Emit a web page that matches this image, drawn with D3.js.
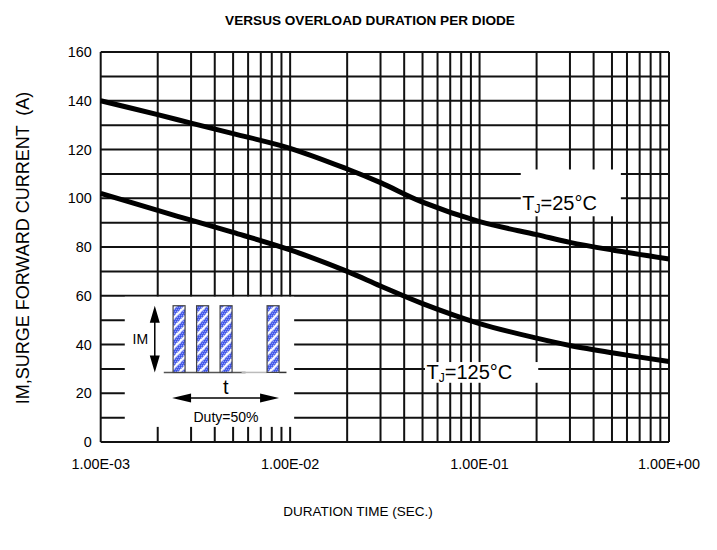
<!DOCTYPE html>
<html>
<head>
<meta charset="utf-8">
<script src="https://cdn.jsdelivr.net/npm/d3@7"></script>
<style>
  body { margin: 0; background: #fff; }
  svg { display: block; font-family: "Liberation Sans", Arial, sans-serif; }
</style>
</head>
<body>
<div id="chart"></div>
<script>
// duration (s) and surge current (A)
const durations = [0.001, 0.002, 0.003, 0.005, 0.01, 0.02, 0.03, 0.05, 0.1, 0.2, 0.3, 0.5, 1];
const surge25 = [140, 134.3, 130.8, 126.5, 120.5, 112, 106.4, 98.4, 90.4, 85.1, 81.9, 78.8, 75.1];
const surge125 = [102, 95, 91, 86, 78.8, 70, 64, 56.8, 48.6, 42.6, 39.6, 36.6, 33];
const yTicks = [0, 20, 40, 60, 80, 100, 120, 140, 160];
const xTicks = [1e-3, 1e-2, 1e-1, 1];
const xTickLabels = ["1.00E-03", "1.00E-02", "1.00E-01", "1.00E+00"];

const width = 717, height = 550;
const margin = {top: 52, right: 48, bottom: 108, left: 100.7};

const svg = d3.select("#chart").append("svg")
  .attr("width", width)
  .attr("height", height);

const x = d3.scaleLog().domain([1e-3, 1]).range([margin.left, width - margin.right]);
const y = d3.scaleLinear().domain([0, 160]).range([height - margin.bottom, margin.top]);

// hatched fill for the pulse bars: blue dot screen with white diagonal bands
const defs = svg.append("defs");
const pat = defs.append("pattern")
  .attr("id", "hatch")
  .attr("patternUnits", "userSpaceOnUse")
  .attr("width", 10).attr("height", 10);
pat.append("rect").attr("width", 10).attr("height", 10).attr("fill", "#2f46e6");
for (let i = 0; i < 10; i += 2) {
  for (let j = (i / 2) % 2 ? 1 : 0; j < 10; j += 2) {
    pat.append("rect").attr("x", j).attr("y", i).attr("width", 1).attr("height", 1).attr("fill", "#d8dcff");
  }
}
pat.append("path")
  .attr("d", "M-2.5,2.5 L2.5,-2.5 M0,10 L10,0 M7.5,12.5 L12.5,7.5")
  .attr("stroke", "#fff").attr("stroke-width", 2.4);

// grid
const minor = [];
for (let d = -3; d < 0; d++) {
  for (let k = 1; k <= 9; k++) minor.push(k * Math.pow(10, d));
}
minor.push(1);

const grid = svg.append("g").attr("stroke", "#111").attr("stroke-width", 2);
grid.selectAll("line.v")
  .data(minor)
  .join("line")
  .attr("class", "v")
  .attr("x1", d => x(d)).attr("x2", d => x(d))
  .attr("y1", y(0)).attr("y2", y(160));
grid.selectAll("line.h")
  .data(d3.range(0, 161, 10))
  .join("line")
  .attr("class", "h")
  .attr("x1", x(1e-3)).attr("x2", x(1))
  .attr("y1", d => y(d)).attr("y2", d => y(d));

// white boxes that cut the grid (inset and labels)
const inset = {t0: 1.34e-3, t1: 1.05e-2, v0: 6.2, v1: 59.6};
svg.append("rect")
  .attr("x", x(inset.t0)).attr("y", y(inset.v1))
  .attr("width", x(inset.t1) - x(inset.t0))
  .attr("height", y(inset.v0) - y(inset.v1))
  .attr("fill", "#fff");

const labels = [
  {text: "25°C", t0: 0.165, t1: 0.557, v0: 92.6, v1: 111.8, tx: 0.168, ty: 95.3},
  {text: "125°C", t0: 0.0515, t1: 0.204, v0: 24.3, v1: 32.8, tx: 0.0525, ty: 25.9}
];
svg.selectAll("rect.lab")
  .data(labels)
  .join("rect")
  .attr("class", "lab")
  .attr("x", d => x(d.t0)).attr("y", d => y(d.v1))
  .attr("width", d => x(d.t1) - x(d.t0))
  .attr("height", d => y(d.v0) - y(d.v1))
  .attr("fill", "#fff");

// curves
const line = d3.line()
  .x(d => x(d[0]))
  .y(d => y(d[1]))
  .curve(d3.curveCatmullRom.alpha(0.5));

[surge25, surge125].forEach(s => {
  svg.append("path")
    .datum(durations.map((t, i) => [t, s[i]]))
    .attr("fill", "none")
    .attr("stroke", "#000")
    .attr("stroke-width", 5)
    .attr("d", line);
});

// curve labels
const lt = svg.selectAll("text.lab")
  .data(labels)
  .join("text")
  .attr("class", "lab")
  .attr("x", d => x(d.tx))
  .attr("y", d => y(d.ty))
  .attr("font-size", 20)
  .attr("fill", "#000");
lt.append("tspan").text("T");
lt.append("tspan").attr("font-size", 12).attr("dy", 3).text("J");
lt.append("tspan").attr("dy", -3).text(d => "=" + d.text);

// axis tick labels
svg.append("g")
  .selectAll("text")
  .data(yTicks)
  .join("text")
  .attr("x", margin.left - 9)
  .attr("y", d => y(d))
  .attr("dy", "0.36em")
  .attr("text-anchor", "end")
  .attr("font-size", 14.4)
  .text(d => d);

svg.append("g")
  .selectAll("text")
  .data(xTicks)
  .join("text")
  .attr("x", d => x(d))
  .attr("y", y(0) + 27)
  .attr("text-anchor", "middle")
  .attr("font-size", 14.4)
  .text((d, i) => xTickLabels[i]);

// titles
svg.append("text")
  .attr("x", 370).attr("y", 25)
  .attr("text-anchor", "middle")
  .attr("font-weight", "bold")
  .attr("font-size", 13.6)
  .text("VERSUS OVERLOAD DURATION PER DIODE");

svg.append("text")
  .attr("x", 358).attr("y", 516)
  .attr("text-anchor", "middle")
  .attr("font-size", 13.5)
  .text("DURATION TIME (SEC.)");

svg.append("text")
  .attr("transform", "translate(29,248) rotate(-90)")
  .attr("text-anchor", "middle")
  .attr("font-size", 18)
  .attr("xml:space", "preserve")
  .text("IM,SURGE FORWARD CURRENT  (A)");

// inset pulse diagram
const g = svg.append("g")
  .attr("transform", `translate(${x(inset.t0)},${y(inset.v1)})`);

const pulses = [0, 1, 2, 4];
const pulseX = p => 48.3 + p * 23.5;
const pulseTop = 9, pulseBot = 75.7, pulseW = 12;

g.append("path")
  .attr("d", `M39,${pulseBot}H${pulseX(3) + 2}`)
  .attr("stroke", "#555").attr("stroke-width", 1.5);
g.append("path")
  .attr("d", `M${pulseX(3) - 2},${pulseBot}H${pulseX(4)}`)
  .attr("stroke", "#bbb").attr("stroke-width", 1.5);
g.append("path")
  .attr("d", `M${pulseX(4) + pulseW},${pulseBot}H161.7`)
  .attr("stroke", "#333").attr("stroke-width", 1.5);

g.selectAll("rect.pulse")
  .data(pulses)
  .join("rect")
  .attr("class", "pulse")
  .attr("x", d => pulseX(d))
  .attr("y", pulseTop)
  .attr("width", pulseW)
  .attr("height", pulseBot - pulseTop)
  .attr("fill", "url(#hatch)")
  .attr("stroke", "#444")
  .attr("stroke-width", 1.2);

// vertical IM arrow
g.append("line")
  .attr("x1", 30).attr("x2", 30)
  .attr("y1", pulseTop + 10).attr("y2", pulseBot - 10)
  .attr("stroke", "#000").attr("stroke-width", 1.5);
g.append("path")
  .attr("d", `M30,${pulseTop}L25,${pulseTop + 17}L35,${pulseTop + 17}Z M30,${pulseBot}L25,${pulseBot - 17}L35,${pulseBot - 17}Z`)
  .attr("fill", "#000");
g.append("text")
  .attr("x", 23.3).attr("y", 47.3)
  .attr("text-anchor", "end")
  .attr("font-size", 14)
  .text("IM");

// horizontal t arrow
const ay = 101.3, ax0 = 47.3, ax1 = 154.3;
g.append("line")
  .attr("x1", ax0 + 10).attr("x2", ax1 - 10)
  .attr("y1", ay).attr("y2", ay)
  .attr("stroke", "#000").attr("stroke-width", 1.5);
g.append("path")
  .attr("d", `M${ax0},${ay}L${ax0 + 19},${ay - 4.5}L${ax0 + 19},${ay + 4.5}Z M${ax1},${ay}L${ax1 - 19},${ay - 4.5}L${ax1 - 19},${ay + 4.5}Z`)
  .attr("fill", "#000");
g.append("text")
  .attr("x", 101).attr("y", 97)
  .attr("text-anchor", "middle")
  .attr("font-size", 20)
  .text("t");
g.append("text")
  .attr("x", 101.2).attr("y", 125.7)
  .attr("text-anchor", "middle")
  .attr("font-size", 14)
  .text("Duty=50%");
</script>
</body>
</html>
